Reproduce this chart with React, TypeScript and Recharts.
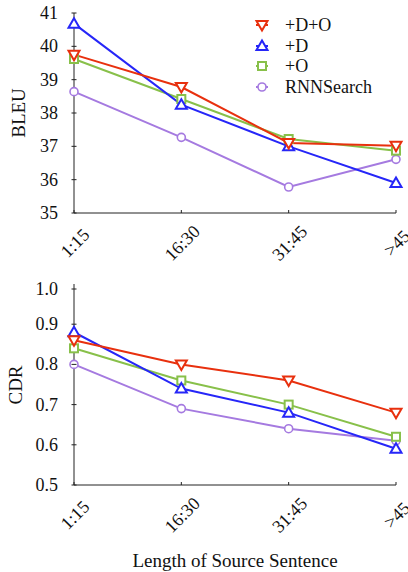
import React from "react";
import { LineChart, Line, XAxis, YAxis } from "recharts";

// categories (sentence length buckets)
const lengths = ["1:15", "16:30", "31:45", ">45"];

// BLEU per system
const bleuDO = [39.75, 38.78, 37.1, 37.02];
const bleuD = [40.68, 38.25, 37.0, 35.9];
const bleuO = [39.62, 38.42, 37.22, 36.87];
const bleuRNN = [38.64, 37.27, 35.78, 36.61];

// CDR per system
const cdrDO = [0.86, 0.8, 0.76, 0.68];
const cdrD = [0.88, 0.74, 0.68, 0.59];
const cdrO = [0.84, 0.76, 0.7, 0.62];
const cdrRNN = [0.8, 0.69, 0.64, 0.61];

const bleuTicks = [35, 36, 37, 38, 39, 40, 41];
const cdrTicks = [0.5, 0.6, 0.7, 0.8, 0.9, 1.0];

const FONT = "Liberation Serif, Times New Roman, serif";
const AXIS = "#222";

const series = [
  { key: "DO", name: "+D+O", color: "#e8300e", shape: "down" },
  { key: "D", name: "+D", color: "#2626f8", shape: "up" },
  { key: "O", name: "+O", color: "#88c04a", shape: "square" },
  { key: "RNN", name: "RNNSearch", color: "#a57ae0", shape: "circle" },
];
// drawing order: RNNSearch at the bottom, +D+O on top
const drawOrder = ["RNN", "O", "D", "DO"];

const bleuData = lengths.map((len, i) => ({
  len,
  DO: bleuDO[i],
  D: bleuD[i],
  O: bleuO[i],
  RNN: bleuRNN[i],
}));

const cdrData = lengths.map((len, i) => ({
  len,
  DO: cdrDO[i],
  D: cdrD[i],
  O: cdrO[i],
  RNN: cdrRNN[i],
}));

function Marker({ cx, cy, shape, color }: any) {
  const sw = 2;
  if (cx == null || cy == null) return null;
  if (shape === "down") {
    return (
      <polygon
        points={`${cx - 5.5},${cy - 4} ${cx + 5.5},${cy - 4} ${cx},${cy + 5.5}`}
        fill="#fff"
        stroke={color}
        strokeWidth={sw}
      />
    );
  }
  if (shape === "up") {
    return (
      <polygon
        points={`${cx - 5.5},${cy + 4} ${cx + 5.5},${cy + 4} ${cx},${cy - 5.5}`}
        fill="#fff"
        stroke={color}
        strokeWidth={sw}
      />
    );
  }
  if (shape === "square") {
    return <rect x={cx - 4} y={cy - 4} width={8} height={8} fill="#fff" stroke={color} strokeWidth={sw} />;
  }
  return <circle cx={cx} cy={cy} r={4} fill="#fff" stroke={color} strokeWidth={1.6} />;
}

function YTick({ x, y, payload, decimals }: any) {
  return (
    <g>
      <line x1={x - 2.5} x2={x + 2.5} y1={y} y2={y} stroke={AXIS} strokeWidth={1} />
      <text
        x={x - 16}
        y={y}
        textAnchor="end"
        dominantBaseline="central"
        style={{ fontFamily: FONT }}
        fontSize={18}
        fill="#111"
      >
        {Number(payload.value).toFixed(decimals)}
      </text>
    </g>
  );
}

function XTick({ x, y, payload }: any) {
  const cx = x + 1;
  const cy = y + 30;
  return (
    <g>
      <line x1={x} x2={x} y1={y} y2={y - 3} stroke={AXIS} strokeWidth={1} />
      <text
        x={cx}
        y={cy}
        textAnchor="middle"
        dominantBaseline="central"
        transform={`rotate(-45 ${cx} ${cy})`}
        style={{ fontFamily: FONT }}
        fontSize={18}
        fill="#111"
      >
        {payload.value}
      </text>
    </g>
  );
}

function AxisTitle({ text, tx, ty, rotate }: any) {
  return (
    <text
      x={tx}
      y={ty}
      textAnchor="middle"
      dominantBaseline="central"
      transform={rotate ? `rotate(-90 ${tx} ${ty})` : undefined}
      style={{ fontFamily: FONT }}
      fontSize={19}
      fill="#111"
    >
      {text}
    </text>
  );
}

function LegendBox() {
  return (
    <div
      style={{
        position: "absolute",
        left: 250,
        top: 15,
        fontFamily: FONT,
        fontSize: 18,
        color: "#111",
        lineHeight: "20px",
      }}
    >
      {series.map((s) => (
        <div key={s.key} style={{ display: "flex", alignItems: "center", height: 20.5 }}>
          <svg width={24} height={20} style={{ marginRight: 11 }}>
            <line x1={6} x2={18} y1={10} y2={10} stroke={s.color} strokeWidth={2} />
            <Marker cx={12} cy={10} shape={s.shape} color={s.color} />
          </svg>
          <span>{s.name}</span>
        </div>
      ))}
    </div>
  );
}

function renderLines() {
  return drawOrder.map((k) => {
    const s = series.find((x) => x.key === k)!;
    return (
      <Line
        key={s.key}
        dataKey={s.key}
        name={s.name}
        stroke={s.color}
        strokeWidth={2}
        isAnimationActive={false}
        dot={(p: any) => <Marker key={`${s.key}-${p.index}`} cx={p.cx} cy={p.cy} shape={s.shape} color={s.color} />}
        activeDot={false}
      />
    );
  });
}

export default function App() {
  return (
    <div style={{ position: "absolute", left: 0, top: 0, width: 408, height: 572, background: "#fff" }}>
      <LineChart width={408} height={280} data={bleuData} margin={{ top: 13, right: 12, left: 34, bottom: 7 }}>
        <XAxis
          dataKey="len"
          height={60}
          padding={{ left: 0, right: 0 }}
          stroke={AXIS}
          tickLine={false}
          tickSize={0}
          tickMargin={0}
          interval={0}
          tick={<XTick />}
        />
        <YAxis
          width={40}
          domain={[35, 41]}
          ticks={bleuTicks}
          stroke={AXIS}
          tickLine={false}
          tickSize={0}
          tickMargin={0}
          tick={<YTick decimals={0} />}
          label={<AxisTitle text="BLEU" tx={18} ty={113} rotate />}
        />
        {renderLines()}
      </LineChart>
      <LegendBox />
      <LineChart width={408} height={292} data={cdrData} margin={{ top: 4, right: 12, left: 34, bottom: 7 }}>
        <XAxis
          dataKey="len"
          height={80}
          padding={{ left: 0, right: 0 }}
          stroke={AXIS}
          tickLine={false}
          tickSize={0}
          tickMargin={0}
          interval={0}
          tick={<XTick />}
          label={<AxisTitle text="Length of Source Sentence" tx={235} ty={280} />}
        />
        <YAxis
          width={40}
          domain={[0.5, 1.0]}
          ticks={cdrTicks}
          stroke={AXIS}
          tickLine={false}
          tickSize={0}
          tickMargin={0}
          tick={<YTick decimals={1} />}
          label={<AxisTitle text="CDR" tx={15} ty={105} rotate />}
        />
        {renderLines()}
      </LineChart>
    </div>
  );
}
